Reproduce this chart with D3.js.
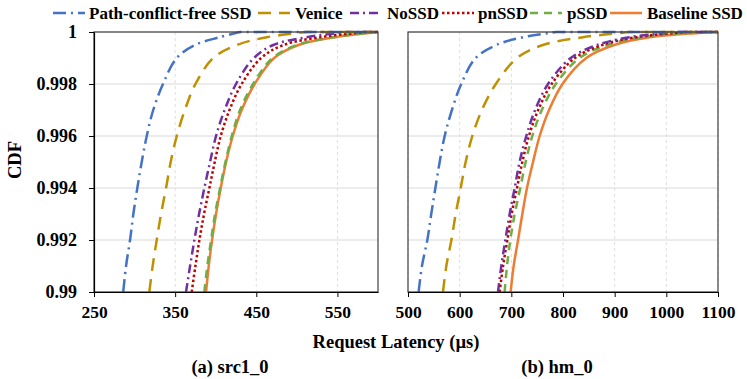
<!DOCTYPE html>
<html>
<head>
<meta charset="utf-8">
<script src="https://cdn.jsdelivr.net/npm/d3@7"></script>
<style>
  body { margin: 0; background: #fff; }
  text { font-family: "Liberation Serif", "Times New Roman", serif; font-weight: bold; fill: #000; }
</style>
</head>
<body>
<div id="chart"></div>
<script>
// CDF levels that every latency value below corresponds to
const cdfLevels = [0.99, 0.991, 0.992, 0.993, 0.994, 0.995, 0.996, 0.997, 0.998, 0.999, 0.9995, 0.9998, 1.0];

const seriesNames = ["Path-conflict-free SSD", "Venice", "NoSSD", "pnSSD", "pSSD", "Baseline SSD"];
const seriesColors = ["#4472C4", "#BF9000", "#7030A0", "#C00000", "#70AD47", "#ED7D31"];
const seriesDashes = ["13,5,2,5", "13,8", "9,4,2,4", "2.5,2.5", "8,6", null];

// (a) src1_0 latency (us) at each cdf level
const src1Path = [286, 289.5, 294.4, 298.5, 303.4, 308.8, 315, 323, 335, 352, 374.5, 405, 430];
const src1Venice = [318.2, 322.3, 327.3, 332.6, 338.8, 344.5, 352, 362, 375, 397, 426, 463, 512];
const src1NoSSD = [363.4, 368.4, 373.7, 379.5, 386, 393, 400.4, 411, 425, 447, 471, 512, 561.5];
const src1pnSSD = [370.4, 375, 379.9, 385.6, 392.2, 398.8, 406.2, 417, 432, 456, 483.5, 528.7, 586];
const src1pSSD = [386, 389.7, 394.3, 399.2, 405.4, 412, 419.8, 430, 446, 470, 500, 545, 598.5];
const src1Baseline = [388.1, 391.4, 395.5, 400.4, 406.2, 412.8, 421, 432, 448, 472, 502, 547, 600];

// (b) hm_0 latency (us) at each cdf level
const hmPath = [520.6, 527, 537.4, 545, 553, 561.3, 571, 585, 603, 631, 671, 722.6, 787];
const hmVenice = [567.7, 574.2, 584, 592.3, 602, 611.6, 624.5, 643, 670, 711, 761, 838.7, 929];
const hmNoSSD = [674.2, 680.6, 688.4, 696.8, 706.5, 716, 729, 746, 771, 815, 866, 929, 1019];
const hmpnSSD = [677.4, 684, 692.3, 700.6, 711, 721.3, 734, 752, 778, 823, 876, 942, 1038.7];
const hmpSSD = [687, 691.6, 698, 706.5, 717.4, 727.7, 740.6, 759, 786, 832, 886, 955, 1058];
const hmBaseline = [698.7, 704.5, 713, 721.3, 730.3, 742, 754.8, 773, 799, 845, 899, 967.7, 1100];

const yTicks = [0.99, 0.992, 0.994, 0.996, 0.998, 1];
const src1Ticks = [250, 350, 450, 550];
const hmTicks = [500, 600, 700, 800, 900, 1000, 1100];

const width = 747, height = 379;
const plotTop = 32, plotBottom = 292;

const svg = d3.select("#chart").append("svg")
    .attr("width", width)
    .attr("height", height);

const yScale = d3.scaleLinear().domain([0.99, 1]).range([plotBottom, plotTop]);

const panels = [
    {id: "a", left: 94, right: 378, domain: [250, 600], ticks: src1Ticks, title: "(a) src1_0", showY: true,
        series: [src1Path, src1Venice, src1NoSSD, src1pnSSD, src1pSSD, src1Baseline]},
    {id: "b", left: 408, right: 718, domain: [500, 1100], ticks: hmTicks, title: "(b) hm_0", showY: false,
        series: [hmPath, hmVenice, hmNoSSD, hmpnSSD, hmpSSD, hmBaseline]}
];

panels.forEach(function (p) {
    const xScale = d3.scaleLinear().domain(p.domain).range([p.left, p.right]);
    const g = svg.append("g");

    // horizontal grid
    g.append("g").selectAll("line")
        .data(yTicks)
        .enter().append("line")
        .attr("x1", p.left).attr("x2", p.right)
        .attr("y1", d => yScale(d)).attr("y2", d => yScale(d))
        .attr("stroke", "#d9d9d9").attr("stroke-width", 1);

    // vertical grid (dashed)
    g.append("g").selectAll("line")
        .data(p.ticks)
        .enter().append("line")
        .attr("x1", d => xScale(d)).attr("x2", d => xScale(d))
        .attr("y1", plotTop).attr("y2", plotBottom)
        .attr("stroke", "#dedede").attr("stroke-width", 1)
        .attr("stroke-dasharray", "3,3");

    // clip so lines stop at the plot edges
    svg.append("clipPath").attr("id", "clip-" + p.id)
        .append("rect")
        .attr("x", p.left).attr("y", plotTop - 4)
        .attr("width", p.right - p.left).attr("height", plotBottom - plotTop + 4);

    const line = d3.line()
        .x(d => xScale(d[0]))
        .y(d => yScale(d[1]))
        .curve(d3.curveCatmullRom.alpha(0.5));

    const lines = g.append("g").attr("clip-path", "url(#clip-" + p.id + ")");
    // draw back to front so Baseline sits under pSSD like the original
    [5, 4, 3, 2, 1, 0].forEach(function (i) {
        const pts = p.series[i].map((v, k) => [v, cdfLevels[k]]);
        // after reaching 1 the cdf stays flat to the right edge
        const tail = ` L${xScale(p.domain[1])},${yScale(1)}`;
        lines.append("path")
            .attr("fill", "none")
            .attr("stroke", seriesColors[i])
            .attr("stroke-width", 2.5)
            .attr("stroke-dasharray", seriesDashes[i])
            .attr("d", line(pts) + tail);
    });

    // frame
    g.append("rect")
        .attr("x", p.left).attr("y", plotTop)
        .attr("width", p.right - p.left).attr("height", plotBottom - plotTop)
        .attr("fill", "none").attr("stroke", "#404040").attr("stroke-width", 1.2);

    // x axis
    const xAxis = g.append("g")
        .attr("transform", `translate(0,${plotBottom})`)
        .call(d3.axisBottom(xScale).tickValues(p.ticks).tickSize(5).tickPadding(9).tickSizeOuter(0)
            .tickFormat(d3.format("d")));
    xAxis.select(".domain").attr("stroke", "#000").attr("stroke-width", 1.2);
    xAxis.selectAll(".tick line").attr("stroke", "#000");
    xAxis.selectAll("text").style("font-size", "17.5px").attr("font-family", null);

    if (p.showY) {
        const yAxis = g.append("g")
            .attr("transform", `translate(${p.left},0)`)
            .call(d3.axisLeft(yScale).tickValues(yTicks).tickSize(5).tickPadding(12).tickSizeOuter(0)
                .tickFormat(d3.format("")));
        yAxis.select(".domain").attr("stroke", "#000").attr("stroke-width", 1.2);
        yAxis.selectAll(".tick line").attr("stroke", "#000");
        yAxis.selectAll("text").style("font-size", "18px").attr("font-family", null);
    }

    // panel caption
    svg.append("text")
        .attr("x", (p.left + p.right) / 2 - 6)
        .attr("y", 367)
        .attr("dy", "0.35em")
        .attr("text-anchor", "middle")
        .style("font-size", "18.5px")
        .text(p.title);
});

// shared x label
svg.append("text")
    .attr("x", 396)
    .attr("y", 342)
    .attr("dy", "0.35em")
    .attr("text-anchor", "middle")
    .style("font-size", "18.5px")
    .text("Request Latency (\u00b5s)");

// y label
svg.append("text")
    .attr("transform", "translate(15,160) rotate(-90)")
    .attr("dy", "0.35em")
    .attr("text-anchor", "middle")
    .style("font-size", "18.5px")
    .text("CDF");

// legend
const legendSymX = [53, 258, 350, 442, 530, 610];
const legendTextX = [89, 295, 387, 478, 567, 647];
const legend = svg.append("g");
seriesNames.forEach(function (name, i) {
    legend.append("line")
        .attr("x1", legendSymX[i]).attr("x2", legendSymX[i] + 32)
        .attr("y1", 13).attr("y2", 13)
        .attr("stroke", seriesColors[i])
        .attr("stroke-width", 2.5)
        .attr("stroke-dasharray", seriesDashes[i]);
    legend.append("text")
        .attr("x", legendTextX[i])
        .attr("y", 13)
        .attr("dy", "0.35em")
        .style("font-size", "17px")
        .text(name);
});
</script>
</body>
</html>
